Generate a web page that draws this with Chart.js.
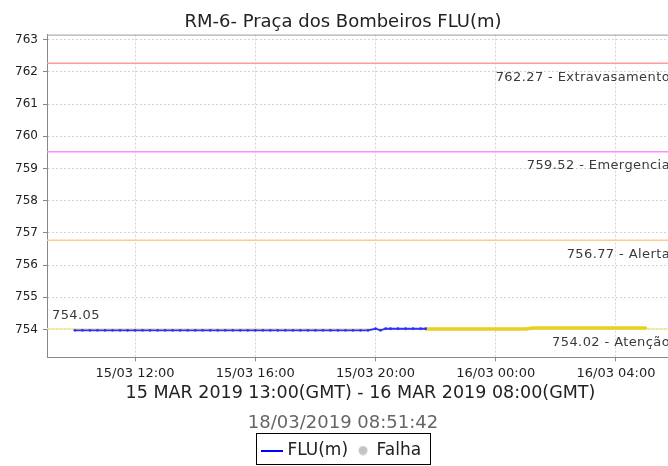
<!DOCTYPE html>
<html>
<head>
<meta charset="utf-8">
<script src="https://cdn.jsdelivr.net/npm/chart.js@4/dist/chart.umd.min.js"></script>
<style>
html, body { margin: 0; padding: 0; background: #fff; overflow: hidden; }
#wrap { width: 668px; height: 466px; overflow: hidden; }
</style>
</head>
<body>
<div id="wrap"><canvas id="grafico" width="686" height="466"></canvas></div>
<script>
const titulo = "RM-6- Praça dos Bombeiros FLU(m)";
const tituloEixo = "15 MAR 2019 13:00(GMT) - 16 MAR 2019 08:00(GMT)";
const dataHora = "18/03/2019 08:51:42";

// horas contadas a partir de 15/03 00:00
const xMin = 9.07, xMax = 29.93;
const xTicks = [12, 16, 20, 24, 28];
const yMin = 753.13, yMax = 763.16;
const yTicks = [754, 755, 756, 757, 758, 759, 760, 761, 762, 763];

const fluTimes = [
  "15/03 10:00", "15/03 10:15", "15/03 10:30", "15/03 10:45", "15/03 11:00", "15/03 11:15", "15/03 11:30", "15/03 11:45",
  "15/03 12:00", "15/03 12:15", "15/03 12:30", "15/03 12:45", "15/03 13:00", "15/03 13:15", "15/03 13:30", "15/03 13:45",
  "15/03 14:00", "15/03 14:15", "15/03 14:30", "15/03 14:45", "15/03 15:00", "15/03 15:15", "15/03 15:30", "15/03 15:45",
  "15/03 16:00", "15/03 16:15", "15/03 16:30", "15/03 16:45", "15/03 17:00", "15/03 17:15", "15/03 17:30", "15/03 17:45",
  "15/03 18:00", "15/03 18:15", "15/03 18:30", "15/03 18:45", "15/03 19:00", "15/03 19:15", "15/03 19:30", "15/03 19:45",
  "15/03 20:00", "15/03 20:10", "15/03 20:20", "15/03 20:30", "15/03 20:45", "15/03 21:00", "15/03 21:15", "15/03 21:30",
  "15/03 21:40"
];
const fluValues = [
  753.97, 753.97, 753.97, 753.97, 753.97, 753.97, 753.97, 753.97,
  753.97, 753.97, 753.97, 753.97, 753.97, 753.97, 753.97, 753.97,
  753.97, 753.97, 753.97, 753.97, 753.97, 753.97, 753.97, 753.97,
  753.97, 753.97, 753.97, 753.97, 753.97, 753.97, 753.97, 753.97,
  753.97, 753.97, 753.97, 753.97, 753.97, 753.97, 753.97, 753.97,
  754.02, 753.97, 754.02, 754.02, 754.02, 754.02, 754.02, 754.02,
  754.02
];

const falhaTimes = [
  "15/03 21:40", "15/03 22:00", "15/03 22:15", "15/03 22:30", "15/03 22:45", "15/03 23:00", "15/03 23:15", "15/03 23:30",
  "15/03 23:45", "16/03 00:00", "16/03 00:15", "16/03 00:30", "16/03 00:45", "16/03 01:00", "16/03 01:15", "16/03 01:30",
  "16/03 01:45", "16/03 02:00", "16/03 02:15", "16/03 02:30", "16/03 02:45", "16/03 03:00", "16/03 03:15", "16/03 03:30",
  "16/03 03:45", "16/03 04:00", "16/03 04:15", "16/03 04:30", "16/03 04:45", "16/03 05:00"
];
const falhaValues = [
  754.01, 754.01, 754.01, 754.01, 754.01, 754.01, 754.01, 754.01,
  754.01, 754.01, 754.01, 754.01, 754.01, 754.01, 754.04, 754.04,
  754.04, 754.04, 754.04, 754.04, 754.04, 754.04, 754.04, 754.04,
  754.04, 754.04, 754.04, 754.04, 754.04, 754.04
];

const limites = [762.27, 759.52, 756.77, 754.02];
const limiteNomes = ["Extravasamento", "Emergencia", "Alerta", "Atenção"];
const limiteCores = ["#ff9c9c", "#ff8cff", "#ffc994", "#f2ec9e"];
const valorMaximo = "754.05";

function horas(s) {
  const dia = parseInt(s.substr(0, 2));
  const h = parseInt(s.substr(6, 2));
  const m = parseInt(s.substr(9, 2));
  return (dia - 15) * 24 + h + m / 60;
}

function pontos(tempos, valores) {
  return tempos.map(function(t, i) { return { x: horas(t), y: valores[i] }; });
}

function rotuloHora(v) {
  const dia = 15 + Math.floor(v / 24);
  const h = v % 24;
  return dia + "/03 " + (h < 10 ? "0" : "") + h + ":00";
}

const fonte = "'DejaVu Sans', sans-serif";

const datasets = [];
limites.forEach(function(v, i) {
  datasets.push({
    label: limiteNomes[i],
    data: [{ x: xMin, y: v }, { x: xMax, y: v }],
    borderColor: limiteCores[i],
    borderWidth: 1.5,
    pointRadius: 0,
    order: 10
  });
});
datasets.push({
  label: "Falha",
  data: pontos(falhaTimes, falhaValues),
  borderColor: "#e8d024",
  backgroundColor: "#e8d024",
  borderWidth: 3.5,
  pointRadius: 1.3,
  pointBorderWidth: 0,
  order: 2
});
datasets.push({
  label: "FLU(m)",
  data: pontos(fluTimes, fluValues),
  borderColor: "#3030ff",
  backgroundColor: "#3030ff",
  borderWidth: 1.8,
  pointRadius: 1.4,
  pointBorderWidth: 0,
  order: 1
});

// icones da legenda
const iconeLinha = document.createElement("canvas");
iconeLinha.width = 22; iconeLinha.height = 3;
let c = iconeLinha.getContext("2d");
c.fillStyle = "#0000ff"; c.fillRect(0, 1, 22, 2);
const iconeBola = document.createElement("canvas");
iconeBola.width = 14; iconeBola.height = 10;
c = iconeBola.getContext("2d");
c.fillStyle = "#c4c4c4"; c.beginPath(); c.arc(9, 5, 4.5, 0, Math.PI * 2); c.fill();

const extras = {
  id: "extras",
  beforeDatasetsDraw(chart) {
    const a = chart.chartArea, ctx = chart.ctx;
    ctx.save();
    ctx.strokeStyle = "#999";
    ctx.lineWidth = 1;
    ctx.beginPath();
    ctx.moveTo(a.left, a.top + 0.5);
    ctx.lineTo(a.right, a.top + 0.5);
    ctx.stroke();
    ctx.restore();
  },
  afterDatasetsDraw(chart) {
    const a = chart.chartArea, ctx = chart.ctx;
    const y = chart.scales.y;
    ctx.save();
    ctx.font = "13px " + fonte;
    ctx.fillStyle = "#3a3a3a";
    ctx.textBaseline = "middle";
    ctx.letterSpacing = "0.4px";
    ctx.textAlign = "right";
    limites.forEach(function(v, i) {
      ctx.fillText(v.toFixed(2) + " - " + limiteNomes[i], a.right - 4, y.getPixelForValue(v) + 14);
    });
    ctx.textAlign = "left";
    ctx.fillText(valorMaximo, a.left + 5, y.getPixelForValue(limites[3]) - 13);
    ctx.restore();
  },
  afterDraw(chart) {
    const caixas = chart.legend.legendHitBoxes;
    if (!caixas || !caixas.length) return;
    const p = caixas[0], u = caixas[caixas.length - 1];
    const meio = p.top + p.height / 2;
    const ctx = chart.ctx;
    ctx.save();
    ctx.strokeStyle = "#000";
    ctx.lineWidth = 1;
    const x0 = Math.round(p.left - 9) + 0.5;
    const x1 = Math.round(u.left + u.width + 9) + 0.5;
    const y0 = Math.round(meio - 18) + 0.5;
    const y1 = Math.min(Math.round(meio + 13), chart.height - 2) + 0.5;
    ctx.strokeRect(x0, y0, x1 - x0, y1 - y0);
    ctx.restore();
  }
};

new Chart(document.getElementById("grafico"), {
  type: "line",
  data: { datasets: datasets },
  plugins: [extras],
  options: {
    responsive: false,
    devicePixelRatio: 1,
    animation: false,
    layout: { padding: { top: 0, left: 0, right: 0, bottom: -3 } },
    plugins: {
      title: {
        display: true,
        text: titulo,
        color: "#222",
        font: { family: fonte, size: 18, weight: "normal" },
        padding: { top: 12, bottom: 1 }
      },
      subtitle: {
        display: true,
        text: dataHora,
        position: "bottom",
        color: "#666",
        font: { family: fonte, size: 18, weight: "normal" },
        padding: { top: 8, bottom: 2 }
      },
      legend: {
        position: "bottom",
        weight: 1600,
        labels: {
          color: "#222",
          font: { family: fonte, size: 17 },
          usePointStyle: true,
          boxWidth: 14,
          boxHeight: 16,
          padding: 6,
          generateLabels: function() {
            return [
              { text: "FLU(m)", pointStyle: iconeLinha, fontColor: "#222", lineWidth: 0, strokeStyle: "transparent", fillStyle: "#00f" },
              { text: "Falha", pointStyle: iconeBola, fontColor: "#222", lineWidth: 0, strokeStyle: "transparent", fillStyle: "#ccc" }
            ];
          }
        }
      },
      tooltip: { enabled: false }
    },
    scales: {
      x: {
        type: "linear",
        min: xMin,
        max: xMax,
        afterBuildTicks: function(s) { s.ticks = xTicks.map(function(v) { return { value: v }; }); },
        ticks: {
          color: "#222",
          font: { family: fonte, size: 13, lineHeight: 1 },
          padding: 6,
          maxRotation: 0,
          callback: function(v) { return rotuloHora(v); }
        },
        grid: { color: "#d4d4d4", tickColor: "#888", tickLength: 4, tickBorderDash: [] },
        border: { color: "#888", dash: [2, 2] },
        title: {
          display: true,
          text: tituloEixo,
          color: "#222",
          font: { family: fonte, size: 17.5 },
          padding: { top: -3, bottom: 0 }
        }
      },
      y: {
        min: yMin,
        max: yMax,
        afterBuildTicks: function(s) { s.ticks = yTicks.map(function(v) { return { value: v }; }); },
        afterFit: function(s) { s.width = 47; },
        ticks: {
          color: "#222",
          font: { family: fonte, size: 12 },
          padding: 5
        },
        grid: { color: "#d4d4d4", tickColor: "#888", tickLength: 4, tickBorderDash: [] },
        border: { color: "#888", dash: [2, 2] }
      },
      // margem direita da area do grafico (a imagem original foi cortada)
      margem: {
        type: "linear",
        position: "right",
        afterFit: function(s) { s.width = 12; },
        ticks: { display: false },
        grid: { display: false },
        border: { display: false }
      }
    }
  }
});
</script>
</body>
</html>
